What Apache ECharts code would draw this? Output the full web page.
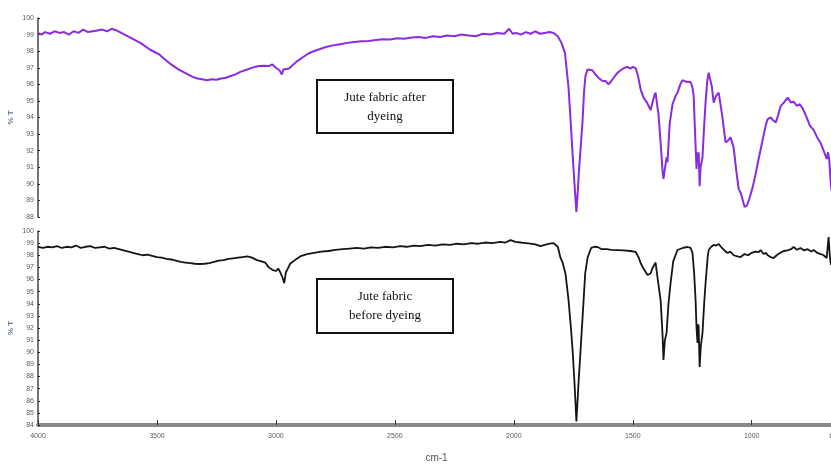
<!DOCTYPE html>
<html>
<head>
<meta charset="utf-8">
<script src="https://cdn.jsdelivr.net/npm/echarts@6/dist/echarts.min.js"></script>
<style>
html,body{margin:0;padding:0;background:#fff;}
#chart{width:831px;height:465px;}
</style>
</head>
<body>
<div id="chart"></div>
<script>
// Wavenumber tick labels (cm-1)
const xTicks = [4000, 3500, 3000, 2500, 2000, 1500, 1000, 650];

// Jute fabric after dyeing: [wavenumber, %T]
const afterWn = [4000,3985,3970,3950,3930,3910,3890,3870,3850,3830,3810,3790,3770,3750,3730,3710,3690,3670,3650,3630,3610,3590,3570,3550,3530,3510,3490,3470,3450,3430,3410,3390,3370,3350,3330,3310,3290,3270,3250,3230,3210,3190,3170,3150,3130,3110,3090,3070,3050,3030,3015,3000,2985,2975,2968,2960,2945,2930,2910,2890,2870,2850,2820,2790,2760,2730,2700,2670,2640,2610,2580,2550,2520,2490,2460,2430,2400,2370,2340,2310,2280,2250,2220,2190,2160,2130,2100,2070,2040,2020,2005,1990,1970,1950,1930,1910,1890,1870,1850,1833,1815,1800,1785,1770,1760,1753,1745,1737,1730,1727,1720,1711,1705,1699,1690,1682,1670,1657,1645,1627,1615,1602,1590,1575,1564,1551,1535,1522,1510,1500,1488,1478,1467,1455,1440,1425,1417,1410,1404,1398,1392,1383,1375,1371,1365,1358,1354,1345,1333,1320,1312,1300,1291,1275,1257,1249,1244,1238,1232,1228,1225,1223,1219,1215,1207,1200,1194,1187,1181,1175,1168,1160,1150,1139,1125,1110,1100,1089,1076,1065,1055,1045,1030,1020,1010,996,985,971,955,940,933,920,908,899,890,878,865,849,835,824,810,798,786,775,765,755,740,725,710,698,690,685,679,674,670,665];
const afterT = [99.1,99.0,99.15,99.05,99.2,99.1,99.15,99.0,99.2,99.1,99.3,99.15,99.2,99.25,99.3,99.2,99.35,99.25,99.1,98.95,98.8,98.65,98.5,98.3,98.1,97.95,97.8,97.55,97.3,97.1,96.9,96.75,96.6,96.45,96.35,96.3,96.25,96.3,96.28,96.35,96.4,96.5,96.6,96.75,96.85,96.95,97.05,97.1,97.12,97.1,97.2,97.0,96.85,96.6,96.9,97.0,96.95,97.15,97.4,97.6,97.8,97.95,98.1,98.25,98.35,98.42,98.5,98.55,98.6,98.62,98.68,98.72,98.7,98.78,98.75,98.82,98.85,98.8,98.9,98.85,98.95,98.9,99.0,98.95,98.9,99.05,99.0,99.1,99.05,99.35,99.05,99.1,99.0,99.15,99.05,99.2,99.05,99.1,99.15,99.1,98.9,98.5,97.9,95.8,93.5,91.8,90.0,88.3,89.8,90.6,92.0,93.8,95.5,96.5,96.9,97.0,96.85,96.6,96.4,96.2,96.2,96.0,96.2,96.5,96.7,96.85,97.0,97.05,96.95,97.05,96.98,96.5,95.7,95.2,94.9,94.45,94.9,95.3,95.5,94.8,94.2,92.5,90.8,90.3,90.9,91.6,91.3,93.6,94.8,95.3,95.5,96.0,96.25,96.15,96.14,95.8,95.3,93.0,90.9,91.9,91.4,91.9,89.85,91.0,91.6,93.5,94.9,96.2,96.7,96.3,95.9,94.9,95.3,95.5,94.2,92.5,92.6,92.8,92.2,90.8,89.7,89.4,88.6,88.7,89.1,89.8,90.5,91.5,92.6,93.6,93.9,94.0,93.8,93.7,94.1,94.7,94.9,95.2,94.9,94.95,94.7,94.8,94.55,94.2,93.85,93.5,93.25,92.8,92.45,92.0,91.7,91.5,91.9,91.4,90.5,89.6];

// Jute fabric before dyeing: [wavenumber, %T]
const beforeWn = [4000,3980,3960,3940,3920,3900,3880,3860,3840,3820,3800,3780,3760,3740,3720,3700,3680,3660,3640,3620,3600,3580,3560,3540,3520,3500,3480,3460,3440,3420,3400,3380,3360,3340,3320,3300,3280,3260,3240,3220,3200,3180,3160,3140,3120,3100,3080,3060,3045,3030,3015,3000,2990,2982,2973,2965,2958,2950,2940,2920,2898,2870,2840,2810,2780,2750,2720,2690,2660,2630,2600,2570,2540,2510,2477,2450,2420,2393,2360,2330,2300,2267,2240,2210,2180,2150,2120,2090,2056,2035,2014,1993,1970,1950,1930,1910,1888,1870,1850,1833,1815,1804,1795,1783,1770,1760,1753,1745,1737,1732,1728,1720,1711,1700,1690,1675,1660,1648,1630,1610,1590,1564,1540,1510,1488,1475,1467,1455,1438,1425,1417,1404,1395,1383,1375,1371,1365,1358,1350,1341,1330,1312,1290,1270,1257,1249,1242,1236,1232,1228,1225,1223,1219,1214,1207,1200,1194,1185,1181,1170,1160,1150,1139,1125,1110,1101,1090,1076,1060,1047,1030,1015,1000,985,971,963,950,940,933,920,908,895,880,865,850,835,824,810,795,780,765,750,740,725,710,698,690,685,677,672,667,660];
const beforeT = [98.7,98.6,98.7,98.65,98.75,98.6,98.7,98.65,98.8,98.6,98.7,98.75,98.6,98.65,98.7,98.55,98.6,98.5,98.4,98.3,98.2,98.1,98.0,98.05,97.95,97.85,97.8,97.7,97.65,97.55,97.45,97.4,97.35,97.3,97.28,97.3,97.35,97.45,97.55,97.6,97.7,97.75,97.8,97.85,97.9,97.8,97.6,97.5,97.4,97.0,96.8,96.7,96.9,96.6,96.2,95.7,96.6,96.9,97.3,97.6,97.9,98.1,98.2,98.3,98.35,98.45,98.5,98.55,98.6,98.55,98.65,98.6,98.7,98.65,98.75,98.7,98.8,98.75,98.85,98.8,98.9,98.85,98.95,98.9,99.0,98.95,99.05,99.0,99.1,99.05,99.25,99.1,99.05,99.0,98.95,98.9,98.75,98.85,98.95,99.0,98.7,97.8,97.4,96.5,94.3,92.0,90.2,87.5,84.3,86.0,87.5,90.0,92.9,96.5,97.8,98.6,98.7,98.68,98.5,98.5,98.45,98.43,98.4,98.35,98.27,97.8,97.36,96.9,96.37,96.5,96.95,97.4,96.0,94.3,91.5,89.36,91.0,91.58,94.0,95.71,97.5,98.43,98.6,98.68,98.6,98.19,96.5,94.31,92.0,90.76,92.3,92.08,88.78,90.5,91.58,94.0,95.71,97.9,98.43,98.7,98.85,98.8,98.93,98.6,98.3,98.19,98.3,98.0,97.9,97.85,98.1,98.0,98.2,98.3,98.25,98.43,98.1,98.2,98.0,97.85,97.77,98.0,98.2,98.35,98.4,98.5,98.68,98.45,98.6,98.4,98.5,98.3,98.43,98.2,98.1,98.0,97.9,97.77,99.5,98.0,97.2,97.5];

const afterData = afterWn.map((w, i) => [w, afterT[i]]);
const beforeData = beforeWn.map((w, i) => [w, beforeT[i]]);

const chart = echarts.init(document.getElementById('chart'));
const labelColor = '#5a5a66';
const serif = '"Liberation Serif", "DejaVu Serif", serif';

function yAxisCfg(gridIndex, min) {
  return {
    gridIndex: gridIndex, type: 'value', min: min, max: 100, interval: 1,
    name: '% T', nameLocation: 'middle', nameGap: 23, nameRotate: 90, nameMoveOverlap: false,
    nameTextStyle: {fontSize: 8, fontWeight: 'bold', color: '#6b7b9b'},
    axisLine: {show: true, lineStyle: {color: '#444', width: 1.5}},
    axisTick: {show: true, length: 2, inside: true, lineStyle: {color: '#222'}},
    axisLabel: {fontSize: 7, color: labelColor, margin: 4},
    splitLine: {show: false}
  };
}

chart.setOption({
  animation: false,
  backgroundColor: '#ffffff',
  grid: [
    {left: 38, top: 18, right: -4, height: 199, outerBoundsMode: 'none', containLabel: false},
    {left: 38, top: 231, right: -4, height: 194, outerBoundsMode: 'none', containLabel: false}
  ],
  xAxis: [
    {
      gridIndex: 0, type: 'value', min: 650, max: 4000, inverse: true,
      show: false
    },
    {
      gridIndex: 1, type: 'value', min: 650, max: 4000, inverse: true,
      name: 'cm-1', nameLocation: 'middle', nameGap: 28,
      nameTextStyle: {fontSize: 10, color: '#555', fontFamily: 'Liberation Sans, sans-serif'},
      axisLine: {show: true, onZero: false, lineStyle: {color: '#8a8a8a', width: 4}},
      axisTick: {show: true, inside: true, length: 5, customValues: xTicks, lineStyle: {color: '#333', width: 1}},
      axisLabel: {show: true, customValues: xTicks, fontSize: 7, color: labelColor, margin: 8,
        formatter: function (v) { return String(Math.round(v)); }},
      splitLine: {show: false}
    }
  ],
  yAxis: [yAxisCfg(0, 88), yAxisCfg(1, 84)],
  series: [
    {
      name: 'Jute fabric after dyeing', type: 'line', xAxisIndex: 0, yAxisIndex: 0,
      data: afterData, showSymbol: false, smooth: false,
      lineStyle: {color: '#8a2be2', width: 2}
    },
    {
      name: 'Jute fabric before dyeing', type: 'line', xAxisIndex: 1, yAxisIndex: 1,
      data: beforeData, showSymbol: false, smooth: false,
      lineStyle: {color: '#151515', width: 1.8}
    }
  ],
  graphic: [
    {type: 'rect', shape: {x: 317, y: 80, width: 136, height: 53},
      style: {fill: '#fff', stroke: '#111', lineWidth: 2}},
    {type: 'text', x: 385, y: 88,
      style: {text: 'Jute fabric after\ndyeing', fill: '#111', font: '13px ' + serif, align: 'center', lineHeight: 19}},
    {type: 'rect', shape: {x: 317, y: 279, width: 136, height: 54},
      style: {fill: '#fff', stroke: '#111', lineWidth: 2}},
    {type: 'text', x: 385, y: 287,
      style: {text: 'Jute fabric\nbefore dyeing', fill: '#111', font: '13px ' + serif, align: 'center', lineHeight: 19}}
  ]
});
</script>
</body>
</html>
